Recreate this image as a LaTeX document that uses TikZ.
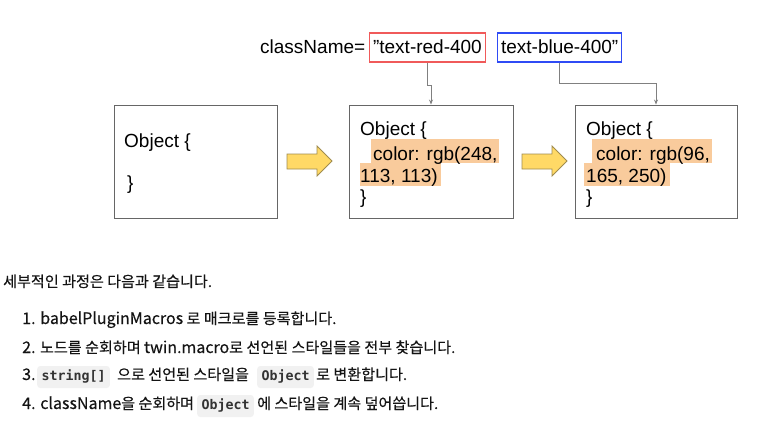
\documentclass[tikz,border=0pt]{standalone}
\usepackage{fontspec}
\setmainfont{Liberation Sans}
\newfontfamily\krfont{Noto Sans CJK KR}[FakeBold=0.35]
\newfontfamily\codefont{DejaVu Sans Mono}
\newcommand\latw[1]{{\fontsize{16}{19}\selectfont #1}}
\usetikzlibrary{arrows.meta}
\definecolor{boxgray}{HTML}{666666}
\definecolor{conngray}{HTML}{808080}
\definecolor{redbox}{HTML}{F05A5A}
\definecolor{bluebox}{HTML}{2F4BF5}
\definecolor{hl}{HTML}{F9CB9C}
\definecolor{arrowfill}{HTML}{FFD966}
\definecolor{arrowline}{HTML}{A08C4E}
\definecolor{codebg}{HTML}{F1F1F1}
\definecolor{codetext}{HTML}{333333}
\definecolor{krtext}{HTML}{141414}
\tikzset{
  objbox/.style={draw=boxgray, line width=0.9pt, minimum width=163pt, minimum height=113pt, inner sep=0pt},
  arial/.style={font=\fontsize{19}{22}\selectfont, inner sep=0pt, anchor=base west},
  tagbox/.style={font=\fontsize{19}{22}\selectfont, line width=1.1pt, inner xsep=3.5pt, inner ysep=3pt, text height=17pt, text depth=6pt, anchor=base west},
  conn/.style={draw=conngray, line width=0.9pt, -{Stealth[length=5pt,width=4pt]}},
  blockarrow/.style={fill=arrowfill, draw=arrowline, line width=0.8pt},
  kr/.style={font=\krfont\fontsize{15.1}{17}\selectfont, text=krtext, inner sep=0pt, anchor=base west},
  code/.style={font=\codefont\bfseries\fontsize{13.3}{15}\selectfont, text=codetext, fill=codebg, rounded corners=3pt, inner xsep=4.3pt, inner ysep=4pt, text height=10pt, text depth=4pt, anchor=base west}
}
\begin{document}
\begin{tikzpicture}[x=1pt, y=-1pt]
\useasboundingbox (0,0) rectangle (770,424);

% top className line
\node[arial] (cn) at (260,53) {className=};
\node[tagbox, draw=redbox] (red) at (369,53) {”text-red-400};
\node[tagbox, draw=bluebox] (blue) at (497,53) {text-blue-400”};

% boxes
\node[objbox] (box1) at (195.5,161.5) {};
\node[objbox, minimum width=164pt] (box2) at (431,161.5) {};
\node[objbox, minimum width=162pt] (box3) at (656,161.5) {};

% connectors
\draw[conn] (red.south) -- ++(0,23) -| (box2.north);
\draw[conn] (blue.south) -- ++(0,21) -| (box3.north);

% box1 text
\node[arial] (b1a) at (124,147) {Object \{};
\node[arial] (b1b) at (127,189) {\}};

% box2 text
\fill[hl] (371,139) rectangle (499,163);
\fill[hl] (360,163) rectangle (441,186);
\node[arial] (b2a) at (360,135) {Object \{};
\node[arial] (b2b) at (373,160) {color: rgb(248,};
\node[arial] (b2c) at (360,182) {113, 113)};
\node[arial] (b2d) at (360,203) {\}};

% box3 text
\fill[hl] (592,139) rectangle (712,163);
\fill[hl] (584,163) rectangle (670,186);
\node[arial] (b3a) at (586,135) {Object \{};
\node[arial] (b3b) at (596,160) {color: rgb(96,};
\node[arial] (b3c) at (586,182) {165, 250)};
\node[arial] (b3d) at (586,203) {\}};

% block arrows
\draw[blockarrow] (287,154) -- (317,154) -- (317,146) -- (332,161) -- (317,176) -- (317,169) -- (287,169) -- cycle;
\draw[blockarrow] (522,154) -- (552,154) -- (552,146) -- (567,161) -- (552,176) -- (552,169) -- (522,169) -- cycle;

% Korean text
\node[kr] (t0) at (3,287) {세부적인 과정은 다음과 같습니다.};
\node[kr] (t1) at (22,324) {\latw{1. babelPluginMacros} 로 매크로를 등록합니다.};
\node[kr] (t2) at (22,353) {\latw{2.} 노드를 순회하며 \latw{twin.macro}로 선언된 스타일들을 전부 찾습니다.};
\node[kr] (t3a) at (22,380) {\latw{3.}};
\node[code] (t3b) at (37,380) {string[]};
\node[kr] (t3c) at (117,380) {으로 선언된 스타일을};
\node[code] (t3d) at (257,380) {Object};
\node[kr] (t3e) at (316,380) {로 변환합니다.};
\node[kr] (t4a) at (22,409) {\latw{4. className}을 순회하며};
\node[code] (t4b) at (197,409) {Object};
\node[kr] (t4c) at (257,409) {에 스타일을 계속 덮어씁니다.};
\end{tikzpicture}
\end{document}
